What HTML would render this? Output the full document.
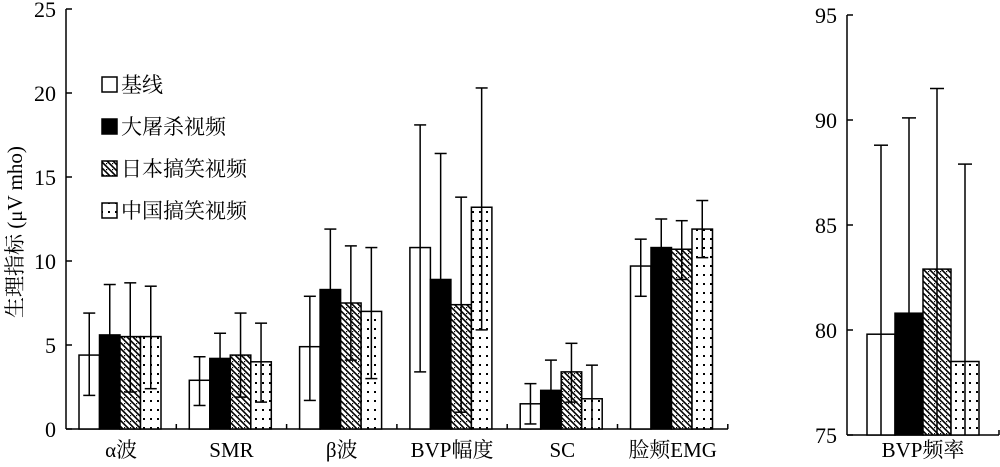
<!DOCTYPE html>
<html><head><meta charset="utf-8"><style>
html,body{margin:0;padding:0;background:#fff;}
svg text{font-family:"Liberation Serif","Noto Serif CJK SC","Noto Sans CJK SC",serif;fill:#000;}
</style></head><body>
<svg id="s" width="1000" height="462" xmlns="http://www.w3.org/2000/svg">
<defs>
<pattern id="hatch" patternUnits="userSpaceOnUse" width="6" height="6">
<rect width="6" height="6" fill="#fff"/>
<path d="M-1,-1 L7,7 M-4,2 L2,8 M4,-2 L8,2" stroke="#000" stroke-width="1.6"/>
<rect x="4" y="1" width="1.2" height="1.2" fill="#000"/>
</pattern>
<pattern id="dots" patternUnits="userSpaceOnUse" width="7" height="9">
<rect width="7" height="9" fill="#fff"/>
<rect x="3" y="4" width="2" height="2" fill="#000"/>
</pattern>
</defs>
<g id="g"></g>
</svg>
<script>
var g=document.getElementById('g'),h='';
function L(x1,y1,x2,y2,w){h+='<line x1="'+x1+'" y1="'+y1+'" x2="'+x2+'" y2="'+y2+'" stroke="#000" stroke-width="'+(w||1.5)+'"/>';}
function T(x,y,t,a,fs){h+='<text x="'+x+'" y="'+y+'" font-size="'+(fs||19)+'" text-anchor="'+(a||'middle')+'">'+t+'</text>';}
var fills=['#fff','#000','url(#hatch)','url(#dots)'];
var X0=66,Y0=429,S=16.8,CW=110.3;
L(X0,9,X0,Y0);L(X0,Y0,728,Y0);
for(var i=0;i<=5;i++){var y=Y0-i*5*S;L(X0,y,X0+6,y);T(X0-10,y+8,i*5,'end',22);}
for(var c=1;c<=6;c++){var x=X0+c*CW;L(x,Y0,x,Y0-5);}
var data=[
[[4.4,6.9,2.0],[5.6,8.6,2.6],[5.5,8.7,2.2],[5.5,8.5,2.4]],
[[2.9,4.3,1.4],[4.2,5.7,2.7],[4.4,6.9,1.9],[4.0,6.3,1.6]],
[[4.9,7.9,1.7],[8.3,11.9,4.7],[7.5,10.9,4.1],[7.0,10.8,3.0]],
[[10.8,18.1,3.4],[8.9,16.4,1.4],[7.4,13.8,1.0],[13.2,20.3,5.9]],
[[1.5,2.7,0.3],[2.3,4.1,0.5],[3.4,5.1,1.6],[1.8,3.8,-1]],
[[9.7,11.3,7.9],[10.8,12.5,9.1],[10.7,12.4,8.9],[11.9,13.6,10.2]]];
var labels=['α波','SMR','β波','BVP幅度','SC','脸颊EMG'];
var bw=20.5;
for(var c=0;c<6;c++){
 var cx=X0+c*CW+13;
 for(var k=0;k<4;k++){
  var d=data[c][k],x=cx+k*bw,y=Y0-d[0]*S;
  h+='<rect x="'+x+'" y="'+y+'" width="'+bw+'" height="'+(Y0-y)+'" fill="'+fills[k]+'" stroke="#000" stroke-width="1.5"/>';
  var mx=x+bw/2,yt=Y0-d[1]*S,yb=d[2]<0?Y0:Y0-d[2]*S;
  L(mx,yt,mx,yb);L(mx-6,yt,mx+6,yt);if(d[2]>=0)L(mx-6,yb,mx+6,yb);
 }
 T(X0+c*CW+CW/2,457,labels[c],'middle',21);
}
var ly=[92,134,176,218],lt=['基线','大屠杀视频','日本搞笑视频','中国搞笑视频'];
for(var k=0;k<4;k++){
 h+='<rect x="102" y="'+(ly[k]-15)+'" width="15" height="15" fill="'+fills[k]+'" stroke="#000" stroke-width="1.5"/>';
 T(121,ly[k],lt[k],'start',21);
}
h+='<text transform="translate(22,232) rotate(-90)" font-size="21" text-anchor="middle">生理指标 (μV mho)</text>';
var RX=847,RY0=435,RS=21;
L(RX,15,RX,RY0);L(RX,RY0,999,RY0);L(999,RY0,999,RY0-5);
for(var i=0;i<=4;i++){var y=RY0-i*5*RS;L(RX,y,RX+6,y);T(RX-10,y+8,75+i*5,'end',22);}
var rd=[[79.8,88.8],[80.8,90.1],[82.9,91.5],[78.5,87.9]];
for(var k=0;k<4;k++){
 var x=867+k*28,y=RY0-(rd[k][0]-75)*RS;
 h+='<rect x="'+x+'" y="'+y+'" width="28" height="'+(RY0-y)+'" fill="'+fills[k]+'" stroke="#000" stroke-width="1.5"/>';
 var mx=x+14,yt=RY0-(rd[k][1]-75)*RS;L(mx,yt,mx,RY0);L(mx-7,yt,mx+7,yt);
}
T(923,457,'BVP频率','middle',21);
g.innerHTML=h;
</script>
</body></html>
